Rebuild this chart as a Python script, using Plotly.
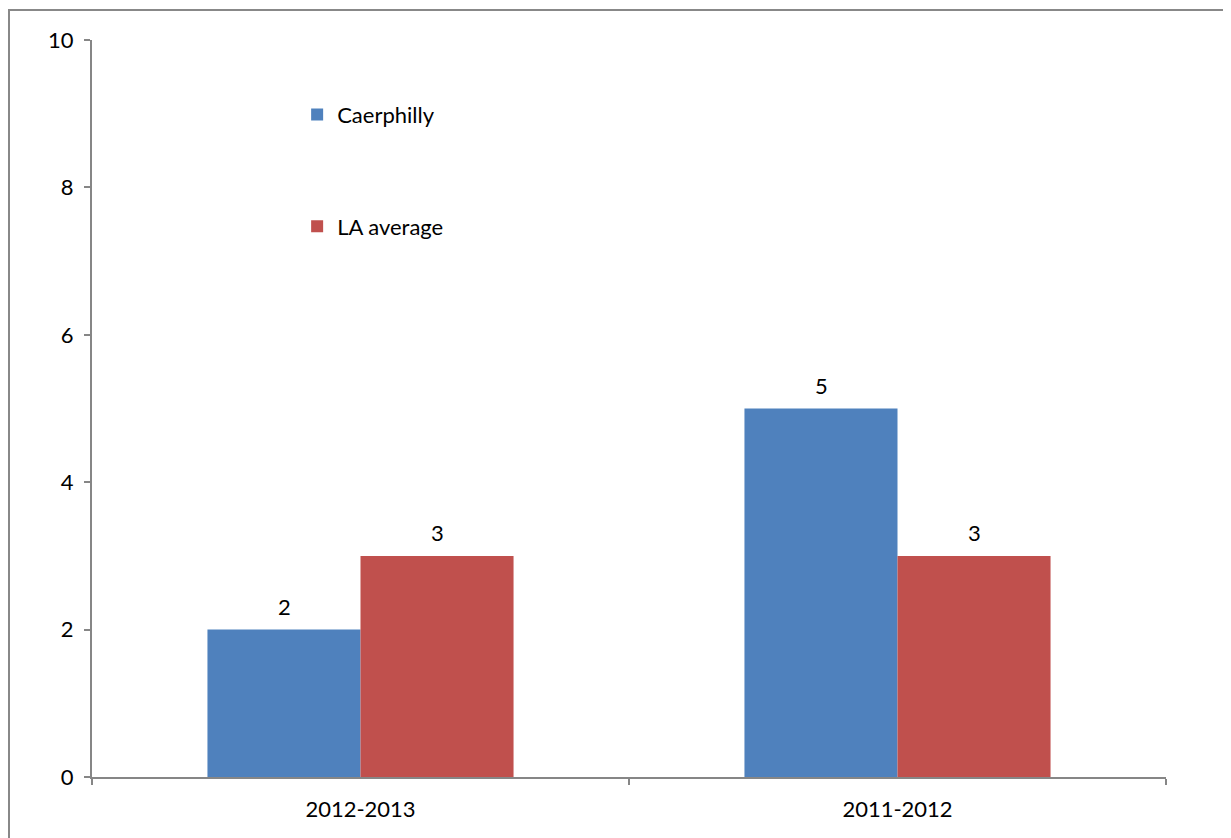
import plotly.graph_objects as go

categories = ["2012-2013", "2011-2012"]
caerphilly = [2, 5]
la_average = [3, 3]
y_ticks = [0, 2, 4, 6, 8, 10]

FONT = "Lato, 'Liberation Sans', sans-serif"
AXIS = "#868686"
FS = 22

fig = go.Figure()
fig.add_trace(go.Bar(name="Caerphilly", x=categories, y=caerphilly,
                     marker=dict(color="#4F81BD", line=dict(width=0)),
                     legendgroup="a"))
fig.add_trace(go.Bar(name="LA average", x=categories, y=la_average,
                     marker=dict(color="#C0504D", line=dict(width=0)),
                     legendgroup="b"))

annotations = []
for series, shift in ((caerphilly, -76.5), (la_average, 76.5)):
    for cat, val in zip(categories, series):
        annotations.append(dict(x=cat, y=val, text=str(val), showarrow=False,
                                xshift=shift, yshift=23, yanchor="middle",
                                font=dict(size=FS, color="#000000")))

fig.update_layout(
    width=1223, height=830,
    margin=dict(l=84, r=65, t=32, b=61),
    paper_bgcolor="white", plot_bgcolor="white",
    font=dict(family=FONT, size=FS, color="#000000"),
    barmode="group", bargap=0.43, bargroupgap=0,
    showlegend=True,
    legend=dict(x=0.191, y=0.927, xanchor="left", yanchor="top",
                traceorder="grouped", tracegroupgap=80,
                font=dict(size=FS), bgcolor="rgba(0,0,0,0)",
                itemwidth=30),
    xaxis=dict(showline=True, linecolor=AXIS, linewidth=2,
               ticks="outside", ticklen=6, tickcolor=AXIS, tickwidth=2,
               tickson="boundaries", showgrid=False, ticklabelstandoff=12,
               tickfont=dict(size=FS)),
    yaxis=dict(range=[0, 10], tickvals=y_ticks, showline=True, linecolor=AXIS,
               linewidth=2, ticks="outside", ticklen=6, tickcolor=AXIS,
               tickwidth=2, showgrid=False, zeroline=False, ticklabelstandoff=6,
               tickfont=dict(size=FS)),
    annotations=annotations,
    shapes=[dict(type="rect", xref="paper", yref="paper",
                 x0=-83/1074, x1=1200/1074, y0=-100/737, y1=1+30/737,
                 line=dict(color="#888888", width=2), fillcolor="rgba(0,0,0,0)",
                 layer="below")],
)

fig.write_html("out.html")
